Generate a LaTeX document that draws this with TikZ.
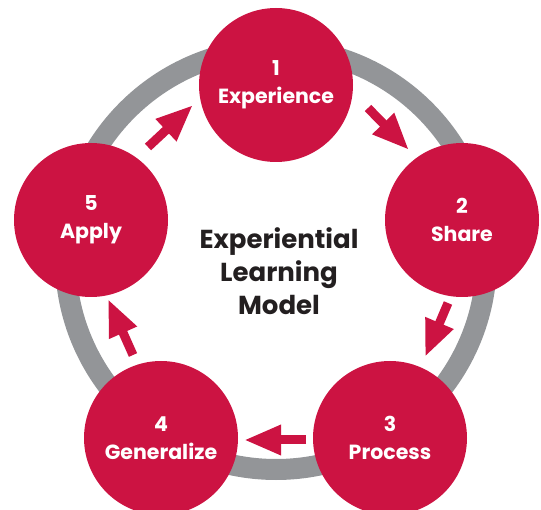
\documentclass[tikz,border=0pt]{standalone}
\usepackage{fontspec}
\setmainfont{Poppins}
\usetikzlibrary{arrows.meta}
\definecolor{stepred}{RGB}{204,19,66}
\definecolor{ringgray}{RGB}{147,149,152}
\definecolor{titledark}{RGB}{35,31,32}

\begin{document}
\begin{tikzpicture}[x=1pt,y=-1pt,
  stage/.style={circle,fill=stepred,minimum size=154pt,inner sep=0pt,text=white,align=center,font=\bfseries\fontsize{20.5}{28}\selectfont},
  flow/.style={draw=stepred,line width=9pt,-{Triangle[width=28pt,length=37pt]}}]
 \useasboundingbox (0,0) rectangle (541,510);
 % ring behind the five stages
 \draw[ringgray,line width=21pt] (276,259) circle[radius=210.5];
 \node[stage] (experience) at (276,85) {1\\Experience};
 \node[stage] (share) at (462,220) {2\\Share};
 \node[stage] (process) at (390,438) {3\\Process};
 \node[stage] (generalize) at (161,438) {4\\Generalize};
 \node[stage] (apply) at (91,220) {5\\Apply};
 \node[font=\bfseries\fontsize{26}{33}\selectfont,text=titledark,align=center] (title) at (279,271) {Experiential\\Learning\\Model};
 % arrows between the stages
 \coordinate (e12) at (368,108); \coordinate (f12) at (409,150);
 \coordinate (e23) at (448,303); \coordinate (f23) at (425,357);
 \coordinate (e34) at (306,440); \coordinate (f34) at (244,440);
 \coordinate (e45) at (133,355); \coordinate (f45) at (108,299);
 \coordinate (e51) at (148,147); \coordinate (f51) at (193,105);
 \draw[flow] (e12) -- (f12);
 \draw[flow] (e23) -- (f23);
 \draw[flow] (e34) -- (f34);
 \draw[flow] (e45) -- (f45);
 \draw[flow] (e51) -- (f51);
\end{tikzpicture}
\end{document}
